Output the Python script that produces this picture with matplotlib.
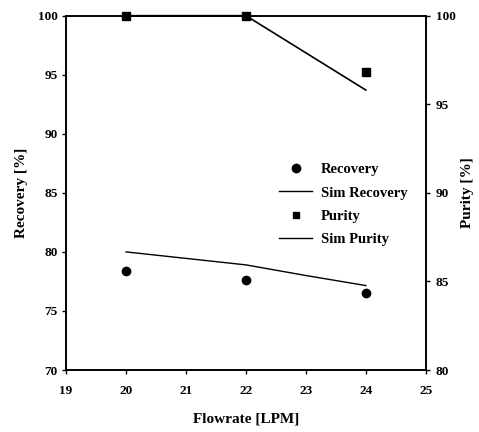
import matplotlib
matplotlib.use("Agg")
import matplotlib.pyplot as plt
from matplotlib.lines import Line2D

plt.rcParams['font.family'] = ['Liberation Serif', 'DejaVu Serif']
plt.rcParams['font.weight'] = 'bold'

flow = [20, 22, 24]
recovery = [78.4, 77.6, 76.5]
sim_flow = [20, 21, 22, 23, 24]
sim_recovery = [80.0, 79.45, 78.9, 78.0, 77.15]
purity = [100.0, 100.0, 96.8]
sim_purity_flow = [20, 22, 23, 24]
sim_purity = [100.0, 100.0, 97.9, 95.8]

xticks = [19, 20, 21, 22, 23, 24, 25]
left_ticks = [70, 75, 80, 85, 90, 95, 100]
right_ticks = [80, 85, 90, 95, 100]

fig = plt.figure(figsize=(4.79, 4.32), dpi=100)
ax = fig.add_axes([0.138, 0.1435, 0.751, 0.8202])
ax2 = ax.twinx()

ax.plot(flow, recovery, 'o', color='black', markersize=6, clip_on=False, zorder=5)
ax.plot(sim_flow, sim_recovery, '-', color='black', lw=1.0)
ax2.plot(flow, purity, 's', color='black', markersize=5.5, clip_on=False, zorder=5)
ax2.plot(sim_purity_flow, sim_purity, '-', color='black', lw=1.2, clip_on=False)

ax.set_xlim(19, 25)
ax.set_ylim(70, 100)
ax2.set_ylim(80, 100)
ax.set_xticks(xticks)
ax.set_yticks(left_ticks)
ax2.set_yticks(right_ticks)

for a in (ax, ax2):
    a.tick_params(direction='out', length=3, width=1, labelsize=9.5, pad=2)
    for s in a.spines.values():
        s.set_linewidth(1.2)
        s.set_color('black')
    for lab in a.get_xticklabels() + a.get_yticklabels():
        lab.set_fontweight('bold')
ax.tick_params(axis='x', pad=8)
ax.tick_params(axis='y', pad=3)
ax2.tick_params(axis='y', pad=4)

ax.set_xlabel('Flowrate [LPM]', fontsize=11, fontweight='bold', labelpad=11)
ax.set_ylabel('Recovery [%]', fontsize=11, fontweight='bold', labelpad=7)
ax2.set_ylabel('Purity [%]', fontsize=11, fontweight='bold', labelpad=4)

handles = [
    Line2D([], [], marker='o', ls='none', color='black', markersize=6),
    Line2D([], [], ls='-', color='black', lw=1.0),
    Line2D([], [], marker='s', ls='none', color='black', markersize=5),
    Line2D([], [], ls='-', color='black', lw=1.0),
]
labels = ['Recovery', 'Sim Recovery', 'Purity', 'Sim Purity']
leg = ax2.legend(handles, labels, loc='upper left', bbox_to_anchor=(0.575, 0.60),
                 frameon=False, fontsize=10.5, handlelength=2.3, handletextpad=0.6,
                 labelspacing=0.68, borderaxespad=0)
for t in leg.get_texts():
    t.set_fontweight('bold')

fig.savefig('out.png', dpi=100)
